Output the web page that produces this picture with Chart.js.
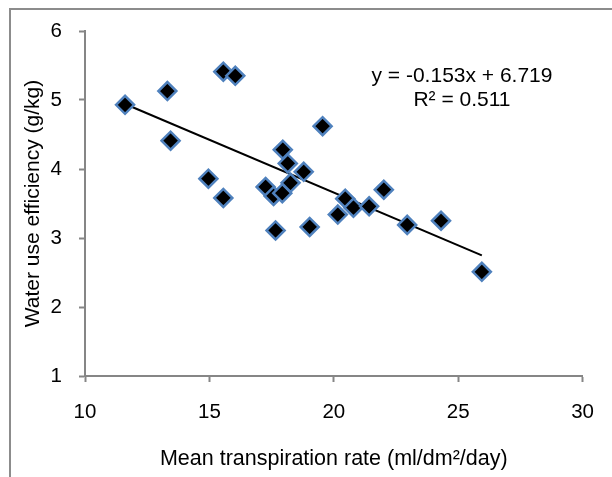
<!DOCTYPE html>
<html>
<head>
<meta charset="utf-8">
<script src="https://cdn.jsdelivr.net/npm/chart.js@4.4.0/dist/chart.umd.min.js"></script>
<style>
  html, body { margin: 0; padding: 0; background: #fff; overflow: hidden; }
  #wrap { width: 612px; height: 477px; position: relative; }
</style>
</head>
<body>
<div id="wrap"><canvas id="wue"></canvas></div>
<script>
// mean transpiration rate (ml/dm2/day) against water use efficiency (g/kg)
const transpiration = [11.61, 13.31, 13.44, 14.96, 15.56, 15.56, 16.04, 17.26, 17.58, 17.66, 17.93, 17.95, 18.15,
                       18.26, 18.79, 19.03, 19.55, 20.16, 20.46, 20.79, 21.42, 22.01, 22.95, 24.31, 25.95];
const efficiency    = [4.93, 5.13, 4.41, 3.86, 3.58, 5.41, 5.35, 3.74, 3.61, 3.11, 3.65, 4.28, 4.08,
                       3.80, 3.96, 3.16, 4.62, 3.34, 3.57, 3.44, 3.46, 3.70, 3.19, 3.25, 2.51];

// linear trend as reported on the chart
const slope = -0.153;
const intercept = 6.719;
const rSquared = '0.511';

const xTicks = [10, 15, 20, 25, 30];
const yTicks = [1, 2, 3, 4, 5, 6];

const FONT = '"Liberation Sans", Arial, sans-serif';
const AXIS_GREY = '#868686';

const points = transpiration.map((x, i) => ({ x, y: efficiency[i] }));
const xMin = Math.min(...transpiration);
const xMax = Math.max(...transpiration);
const trend = [xMin, xMax].map(x => ({ x, y: slope * x + intercept }));

const eqText = `y = ${slope.toFixed(3)}x + ${intercept.toFixed(3)}`;
const r2Text = `R² = ${rSquared}`;

// grey frame round the plot + regression label
const extras = {
  id: 'extras',
  beforeDraw(chart) {
    const c = chart.ctx;
    c.save();
    c.strokeStyle = '#8c8c8c';
    c.lineWidth = 2;
    c.strokeRect(10, 9, 700, 600);
    c.restore();
  },
  afterDatasetsDraw(chart) {
    const c = chart.ctx;
    c.save();
    c.font = '21px ' + FONT;
    c.fillStyle = '#000';
    c.textAlign = 'center';
    c.textBaseline = 'middle';
    c.fillText(eqText, 462, 76);
    c.fillText(r2Text, 462, 100);
    c.restore();
  }
};

new Chart(document.getElementById('wue'), {
  type: 'scatter',
  data: {
    datasets: [
      {
        label: 'WUE',
        data: points,
        pointStyle: 'rectRot',
        pointRadius: 9,
        pointBorderWidth: 2.5,
        pointBackgroundColor: '#000',
        pointBorderColor: '#4F81BD',
        order: 0
      },
      {
        label: 'Linear',
        type: 'line',
        data: trend,
        borderColor: '#000',
        borderWidth: 2,
        pointRadius: 0,
        fill: false,
        order: 1
      }
    ]
  },
  options: {
    responsive: true,
    maintainAspectRatio: false,
    animation: false,
    events: [],
    layout: { padding: { left: 20.4, top: 31, right: 26, bottom: 5 } },
    plugins: { legend: { display: false }, tooltip: { enabled: false } },
    scales: {
      x: {
        type: 'linear', min: 10, max: 30,
        afterBuildTicks: s => { s.ticks = xTicks.map(v => ({ value: v })); },
        ticks: { font: { family: FONT, size: 20.5 }, color: '#000', padding: 18, maxRotation: 0 },
        grid: { drawOnChartArea: false, drawTicks: true, tickLength: 6, tickColor: AXIS_GREY, tickWidth: 2 },
        border: { color: AXIS_GREY, width: 2 },
        title: { display: true, text: 'Mean transpiration rate (ml/dm²/day)', font: { family: FONT, size: 21.5 }, color: '#000', padding: 0 },
        afterFit: s => { s.height = 96; }
      },
      y: {
        type: 'linear', min: 1, max: 6,
        afterBuildTicks: s => { s.ticks = yTicks.map(v => ({ value: v })); },
        ticks: { font: { family: FONT, size: 20.5 }, color: '#000', padding: 17 },
        grid: { drawOnChartArea: false, drawTicks: true, tickLength: 6, tickColor: AXIS_GREY, tickWidth: 2 },
        border: { color: AXIS_GREY, width: 2 },
        title: { display: true, text: 'Water use efficiency (g/kg)', font: { family: FONT, size: 21 }, color: '#000', padding: 0 },
        afterFit: s => { s.width = 64.6; }
      }
    }
  },
  plugins: [extras]
});
</script>
</body>
</html>
